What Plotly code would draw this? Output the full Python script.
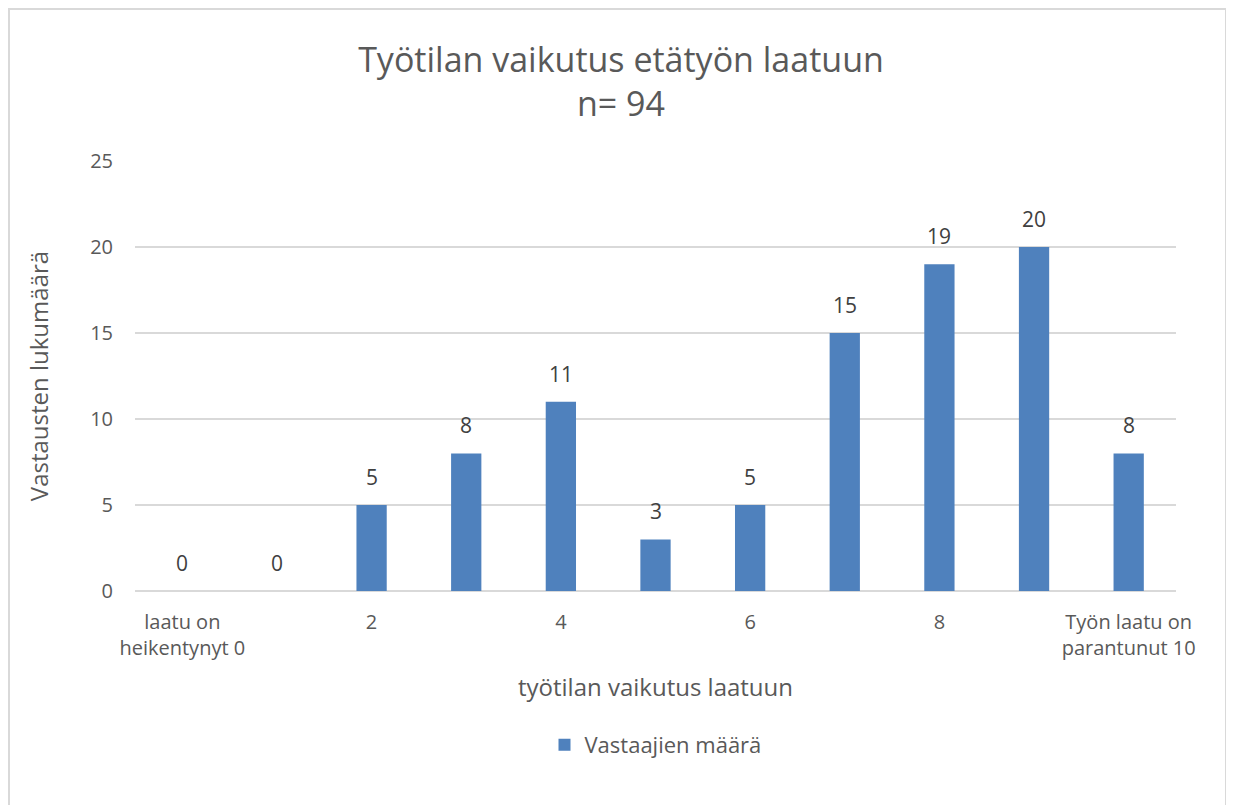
import plotly.graph_objects as go

categories = [0, 1, 2, 3, 4, 5, 6, 7, 8, 9, 10]
values = [0, 0, 5, 8, 11, 3, 5, 15, 19, 20, 8]
tick_vals = [0, 2, 4, 6, 8, 10]
tick_text = ["laatu on<br>heikentynyt 0", "2", "4", "6", "8", "Työn laatu on<br>parantunut 10"]
series_name = "Vastaajien määrä"

FONT = "Open Sans"
GREY = "#595959"
OFF = 8  # page body margin
FW, FH = 1226, 797

fig = go.Figure()
fig.add_trace(go.Bar(
    x=categories, y=values, name=series_name,
    marker=dict(color="#4f81bd", line=dict(width=0)),
    width=0.32,
))

for c, v in zip(categories, values):
    fig.add_annotation(x=c, y=v, text=str(v), showarrow=False, yanchor="bottom",
                       yshift=12, font=dict(family=FONT, size=21, color="#404040"))

# plot area in picture pixels
L, R, T, B = 135 - OFF, 1176 - OFF, 161 - OFF, 591 - OFF
W, H = R - L, B - T
def px(x): return (x - OFF - L) / W
def py(y): return (B - (y - OFF)) / H

fig.add_shape(type="rect", xref="paper", yref="paper",
              x0=px(9), x1=px(1226), y0=py(860), y1=py(9),
              line=dict(color="#d9d9d9", width=2), fillcolor="rgba(0,0,0,0)", layer="below")

fig.update_layout(
    width=FW, height=FH,
    paper_bgcolor="white", plot_bgcolor="white",
    margin=dict(l=L, r=FW - R, t=T, b=FH - B),
    title=dict(text="Työtilan vaikutus etätyön laatuun<br>n= 94", x=0.5, xanchor="center",
               y=1 - (72 - OFF) / FH, yanchor="middle",
               font=dict(family=FONT, size=34, color=GREY)),
    font=dict(family=FONT, color=GREY),
    showlegend=True,
    legend=dict(orientation="h", x=0.5, xanchor="center", y=py(745), yanchor="middle",
                font=dict(family=FONT, size=22, color=GREY)),
    xaxis=dict(range=[-0.5, 10.5], tickmode="array", tickvals=tick_vals, ticktext=tick_text,
               tickfont=dict(family=FONT, size=20, color=GREY),
               showgrid=False, zeroline=False, showline=False, ticks="",
               ticklabelstandoff=17,
               title=dict(text="työtilan vaikutus laatuun", standoff=19,
                          font=dict(family=FONT, size=24, color=GREY))),
    yaxis=dict(range=[0, 25], dtick=5, showgrid=True, gridcolor="#d9d9d9", gridwidth=1.5,
               zeroline=True, zerolinecolor="#d9d9d9", zerolinewidth=2,
               tickfont=dict(family=FONT, size=20, color=GREY), ticks="",
               ticklabelstandoff=21,
               title=dict(text="Vastausten lukumäärä", standoff=34,
                          font=dict(family=FONT, size=24, color=GREY))),
)

fig.write_html("out.html")
